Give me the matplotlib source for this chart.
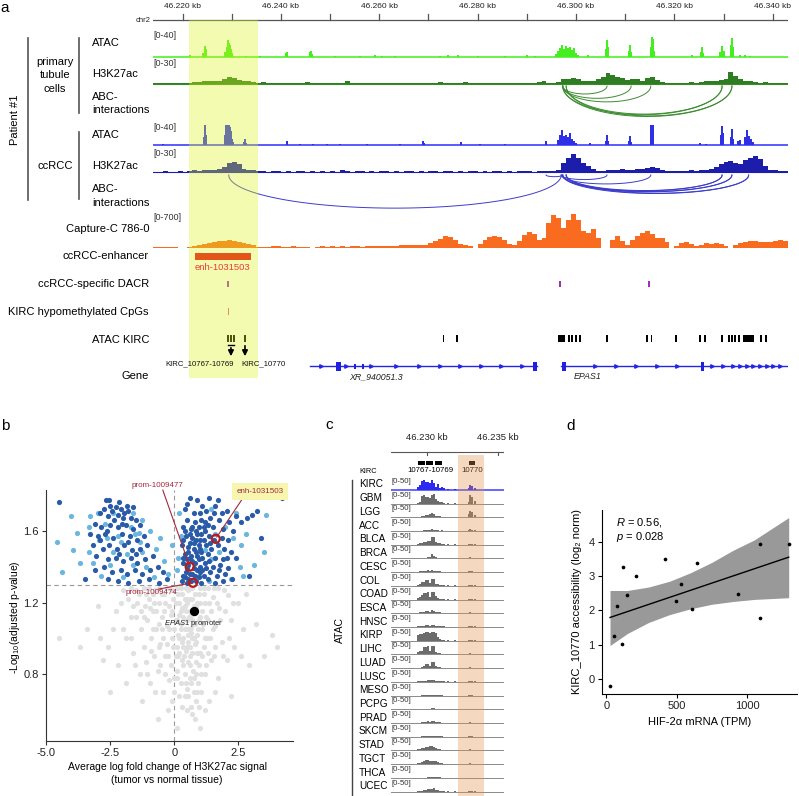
import numpy as np
import matplotlib
matplotlib.use("Agg")
import matplotlib.pyplot as plt
from matplotlib.patches import Rectangle

plt.rcParams['font.family'] = ['Liberation Sans', 'DejaVu Sans']
plt.rcParams['mathtext.fontset'] = 'custom'
plt.rcParams['mathtext.rm'] = 'Liberation Sans'
plt.rcParams['mathtext.it'] = 'Liberation Sans:italic'

W, H = 799, 796

# ---------------- panel a data (positions in kb on chr2) ----------------
REGION = (46214.0, 46343.1)
RULER_TICKS = [46220, 46230, 46240, 46250, 46260, 46270, 46280, 46290, 46300, 46310, 46320, 46330, 46340]
HIGHLIGHT = (46221.4, 46235.3)

# ATAC peaks (kb, signal 0-40)
PT_ATAC = [(46221.5, 4), (46224.16, 8), (46224.57, 22), (46224.77, 16), (46228.63, 10), (46229.04, 20),
           (46229.24, 34), (46229.45, 28), (46229.65, 24), (46229.85, 16), (46230.06, 8), (46232.9, 3),
           (46235.7, 3), (46241.03, 8), (46241.24, 10), (46245.9, 10), (46246.11, 12), (46246.3, 6),
           (46251.0, 3), (46256.1, 3), (46259.1, 4), (46260.5, 3), (46263.2, 3), (46272.3, 3), (46274.0, 4),
           (46276.0, 4), (46280.1, 3), (46285.5, 3), (46290.0, 4), (46291.6, 3),
           (46295.9, 6), (46296.3, 12), (46296.7, 18), (46297.1, 24), (46297.5, 16), (46297.9, 22),
           (46298.3, 18), (46298.7, 20), (46299.1, 14), (46299.6, 18), (46300.0, 8), (46300.4, 4),
           (46302.4, 4), (46306.1, 16), (46306.3, 34), (46306.5, 20), (46310.7, 12), (46310.9, 24),
           (46311.1, 10), (46315.2, 20), (46315.4, 40), (46315.6, 36), (46315.9, 12), (46323.6, 4),
           (46325.4, 10), (46325.6, 20), (46325.8, 8), (46329.2, 10), (46329.7, 22), (46330.1, 12),
           (46331.5, 24), (46331.7, 38), (46331.9, 20), (46333.3, 4), (46334.3, 4), (46335.3, 3)]

CC_ATAC = [(46216.0, 3), (46224.4, 16), (46224.6, 40), (46224.8, 20), (46228.6, 20), (46228.8, 40),
           (46229.0, 40), (46229.2, 40), (46229.45, 40), (46229.65, 36), (46229.85, 28), (46230.06, 12),
           (46230.26, 6), (46232.5, 6), (46232.7, 12), (46232.9, 4), (46241.24, 8), (46243.9, 2),
           (46246.5, 2), (46249.4, 2), (46252.0, 2), (46257.5, 2), (46264.2, 2), (46268.9, 8),
           (46269.1, 4), (46276.6, 6), (46280.5, 2), (46285.5, 2), (46293.9, 8),
           (46296.3, 10), (46296.7, 20), (46297.1, 30), (46297.5, 18), (46297.9, 20), (46298.3, 16),
           (46298.7, 24), (46299.1, 12), (46299.6, 8), (46300.0, 4), (46302.8, 4), (46306.1, 8),
           (46306.3, 20), (46306.5, 8), (46310.7, 8), (46310.9, 18), (46311.1, 6), (46315.2, 40),
           (46315.4, 40), (46315.6, 40), (46325.2, 4), (46326.4, 3), (46329.5, 20), (46329.7, 38),
           (46329.9, 24), (46331.5, 16), (46331.7, 32), (46331.9, 12), (46333.0, 8), (46333.3, 10),
           (46334.3, 16), (46334.7, 30), (46335.1, 18), (46335.5, 12), (46335.9, 6)]

# H3K27ac, 1 kb bins from 46214 (signal 0-30)
PT_H3K27AC = [1.5, 2.2, 1.5, 1.5, 2.2, 1.5, 1.5, 2.2, 3, 3,
              4.5, 4.5, 3.8, 5.2, 7.5, 10.5, 9, 6, 4.5, 5.2,
              3, 2.2, 3, 2.2, 1.5, 2.2, 1.5, 1.5, 2.2, 1.5,
              2.2, 3, 2.2, 1.5, 1.5, 2.2, 1.5, 1.5, 2.2, 3.8,
              2.2, 1.5, 1.5, 2.2, 1.5, 1.5, 2.2, 1.5, 1.5, 2.2,
              1.5, 2.2, 1.5, 2.2, 1.5, 2.2, 1.5, 2.2, 3, 1.5,
              2.2, 1.5, 2.2, 3, 1.5, 2.2, 1.5, 2.2, 1.5, 2.2,
              1.5, 2.2, 1.5, 2.2, 1.5, 2.2, 1.5, 2.2, 3, 3.8,
              1.5, 2.2, 3, 7.5, 7.5, 9, 7.5, 4.5, 3.8, 4.5,
              7.5, 10.5, 16.5, 13.5, 10.5, 9, 6, 7.5, 7.5, 4.5,
              9, 10.5, 6, 3, 2.2, 2.2, 1.5, 2.2, 1.5, 3,
              2.2, 3, 4.5, 4.5, 5.2, 6, 7.5, 18, 12, 7.5,
              4.5, 3.8, 3, 2.2, 3, 2.2, 2.2, 1.5, 1.5]

CC_H3K27AC = [1.5, 1.5, 2.2, 1.5, 1.5, 2.2, 1.5, 3, 3.8, 3,
              4.5, 4.5, 3.8, 6, 9, 15, 16.5, 13.5, 6, 4.5,
              4.5, 3, 2.2, 1.5, 2.2, 3, 1.5, 2.2, 1.5, 2.2,
              3, 1.5, 2.2, 1.5, 2.2, 1.5, 2.2, 1.5, 4.5, 2.2,
              1.5, 2.2, 3, 1.5, 2.2, 1.5, 2.2, 3, 1.5, 2.2,
              1.5, 2.2, 3, 1.5, 2.2, 1.5, 3, 2.2, 1.5, 2.2,
              3, 1.5, 2.2, 1.5, 2.2, 3, 1.5, 2.2, 1.5, 2.2,
              3, 1.5, 2.2, 1.5, 2.2, 3, 2.2, 1.5, 2.2, 3,
              2.2, 3, 4.5, 15, 22.5, 28.5, 22.5, 15, 10.5, 6,
              3, 3, 4.5, 4.5, 3.8, 5.2, 4.5, 4.5, 5.2, 6,
              7.5, 9, 7.5, 3.8, 3, 3, 2.2, 3, 3, 3.8,
              3, 3.8, 4.5, 6, 9, 13.5, 16.5, 18, 15, 13.5,
              19.5, 22.5, 25.5, 21, 10.5, 4.5, 3.8, 3, 3]

# Capture-C 786-0, 1 kb bins from 46214 (signal 0-700, 0 = no data)
CAPTURE_C = [30, 30, 30, 30, 30, 0, 0, 20, 40, 60,
             80, 100, 120, 140, 150, 160, 140, 120, 110, 90,
             60, 30, 20, 30, 50, 40, 30, 30, 40, 30,
             20, 20, 0, 30, 40, 30, 40, 30, 40, 30,
             40, 40, 30, 40, 40, 50, 40, 40, 50, 40,
             60, 60, 60, 70, 60, 60, 100, 140, 180, 240,
             220, 160, 80, 60, 50, 0, 80, 160, 220, 240,
             220, 160, 80, 60, 140, 260, 320, 280, 160, 200,
             500, 660, 600, 400, 560, 680, 560, 340, 300, 380,
             200, 0, 0, 160, 240, 140, 60, 160, 240, 300,
             340, 280, 200, 200, 120, 0, 40, 100, 120, 80,
             40, 60, 100, 80, 100, 80, 40, 0, 60, 100,
             120, 140, 140, 120, 120, 120, 140, 160, 140]

GREEN_ARCS = [(46297.3, 46306.3), (46297.3, 46311.2), (46297.3, 46315.2), (46297.3, 46329.7),
              (46297.3, 46331.7), (46298.0, 46329.7), (46298.0, 46331.7)]
BLUE_ARCS = [(46229.4, 46297.0), (46293.9, 46297.3), (46297.0, 46306.3), (46297.0, 46315.2),
             (46297.3, 46329.7), (46297.3, 46331.7), (46297.3, 46335.1), (46298.0, 46329.7),
             (46298.0, 46331.7), (46298.0, 46335.1)]

ENHANCER = (46222.5, 46233.9)
DACR = [46229.3, 46296.8, 46314.9]
HYPO_CPG = [46229.4]
ATAC_KIRC = [(46229.1, 46229.4), (46229.7, 46230.0), (46230.3, 46230.6), (46232.55, 46232.85),
             (46272.95, 46273.25), (46275.65, 46275.95), (46296.3, 46297.7), (46298.45, 46298.75),
             (46299.05, 46299.35), (46299.85, 46300.15), (46300.65, 46300.95), (46306.15, 46306.45),
             (46314.25, 46314.55), (46315.25, 46315.55), (46320.15, 46320.45), (46325.05, 46325.35),
             (46326.05, 46326.35), (46329.55, 46329.85), (46330.95, 46331.25), (46331.55, 46331.85),
             (46332.15, 46332.45), (46332.95, 46333.25), (46333.9, 46336.2), (46337.45, 46337.75),
             (46338.45, 46338.75)]

GENE_XR = (46245.9, 46292.0)
GENE_XR_EXONS = [(46251.2, 46252.2, 9), (46254.9, 46255.2, 5), (46256.5, 46256.8, 5), (46291.2, 46292.0, 9)]
GENE_XR_ARROWS = [46248.1, 46253.2, 46258.3, 46263.4, 46268.1, 46272.3, 46276.4, 46280.7, 46284.7, 46289.0]
GENE_EPAS1 = (46297.0, 46342.8)
GENE_EPAS1_EXONS = [(46297.1, 46297.9, 9), (46325.5, 46326.1, 9)]
GENE_EPAS1_ARROWS = [46303.8, 46308.1, 46312.2, 46316.4, 46320.5, 46327.6, 46329.9, 46331.9, 46333.3,
                     46334.7, 46336.0, 46337.4, 46338.8, 46340.0, 46341.4]

# ---------------- panel b data ----------------
VOLC_DARK = [(-4.51, 1.76), (-2.68, 1.77), (-2.55, 1.77), (-2.16, 1.76), (-2.9, 1.70), (-2.75, 1.72),
             (-2.45, 1.71), (-2.3, 1.73), (-2.1, 1.72), (-1.95, 1.70), (-1.8, 1.71), (-2.6, 1.68),
             (-2.35, 1.66), (-2.0, 1.67), (-1.7, 1.67), (-1.5, 1.66), (-3.1, 1.64), (-2.85, 1.62),
             (-2.5, 1.63), (-2.2, 1.62), (-1.9, 1.63), (-1.6, 1.61), (-1.35, 1.63), (-3.3, 1.58),
             (-3.0, 1.57), (-2.7, 1.58), (-2.4, 1.56), (-2.05, 1.58), (-1.75, 1.57), (-1.45, 1.55),
             (-1.2, 1.57), (-3.2, 1.52), (-2.8, 1.50), (-2.55, 1.52), (-2.25, 1.50), (-1.95, 1.52),
             (-1.65, 1.49), (-1.35, 1.50), (-1.05, 1.52), (-3.05, 1.46), (-2.6, 1.44), (-2.3, 1.45),
             (-2.0, 1.43), (-1.7, 1.45), (-1.45, 1.42), (-1.15, 1.44), (-0.85, 1.46), (-3.1, 1.38),
             (-2.75, 1.40), (-2.45, 1.37), (-2.1, 1.38), (-1.85, 1.36), (-1.55, 1.38), (-1.25, 1.36),
             (-0.95, 1.38), (-0.65, 1.40), (-2.6, 1.33), (-2.2, 1.32), (-1.4, 1.32), (-1.0, 1.33),
             (-0.6, 1.31), (-0.3, 1.33), (-1.8, 1.31), (-3.5, 1.33), (-0.45, 1.37), (-2.2, 1.69),
             (-1.85, 1.74), (-2.5, 1.74), (-1.6, 1.73), (-2.05, 1.64), (-2.65, 1.60), (-1.8, 1.54),
             (-2.9, 1.55), (-2.15, 1.47), (-1.5, 1.47),
             (0.6, 1.78), (0.9, 1.77), (1.35, 1.78), (1.7, 1.77), (1.1, 1.74), (0.4, 1.72), (0.75, 1.70),
             (1.0, 1.70), (1.25, 1.71), (1.55, 1.70), (1.85, 1.70), (2.05, 1.71), (0.5, 1.66),
             (0.8, 1.65), (1.05, 1.66), (1.4, 1.67), (1.75, 1.66), (2.15, 1.65), (2.6, 1.65),
             (2.85, 1.67), (3.05, 1.69), (3.25, 1.71), (0.35, 1.62), (0.65, 1.61), (0.95, 1.62),
             (1.2, 1.60), (1.5, 1.62), (1.9, 1.61), (2.3, 1.60), (0.45, 1.57), (0.7, 1.56), (0.9, 1.58),
             (1.15, 1.55), (1.35, 1.57), (1.85, 1.56), (2.1, 1.55), (3.4, 1.56), (0.3, 1.52),
             (0.55, 1.51), (0.75, 1.53), (1.0, 1.50), (1.25, 1.52), (1.45, 1.50), (1.7, 1.52),
             (1.95, 1.50), (2.2, 1.48), (0.4, 1.47), (0.65, 1.46), (0.85, 1.48), (1.1, 1.45),
             (1.3, 1.47), (1.6, 1.45), (1.9, 1.44), (2.4, 1.45), (0.35, 1.42), (0.55, 1.41), (0.8, 1.42),
             (1.0, 1.40), (1.2, 1.42), (1.5, 1.40), (1.8, 1.41), (2.1, 1.39), (0.45, 1.37), (0.7, 1.36),
             (0.9, 1.38), (1.15, 1.35), (1.4, 1.37), (1.65, 1.35), (2.0, 1.36), (2.9, 1.35), (0.3, 1.32),
             (0.55, 1.33), (0.85, 1.32), (1.05, 1.31), (1.3, 1.33), (1.6, 1.31), (1.9, 1.32),
             (2.25, 1.33), (4.2, 1.78), (0.6, 1.45), (0.5, 1.39), (0.95, 1.44), (1.05, 1.58), (0.7, 1.62),
             (0.4, 1.34), (0.65, 1.32), (0.95, 1.34), (0.5, 1.44), (0.75, 1.39), (1.1, 1.38), (0.35, 1.55),
             (0.6, 1.53), (0.85, 1.55), (1.2, 1.65), (1.6, 1.74), (2.4, 1.68), (0.5, 1.75), (1.3, 1.63),
             (0.35, 1.35), (0.5, 1.31), (0.62, 1.36), (0.8, 1.35), (1.0, 1.37), (1.25, 1.39), (0.42, 1.45),
             (0.7, 1.43), (0.9, 1.46), (1.35, 1.43), (0.55, 1.48), (0.78, 1.5), (1.05, 1.48), (1.4, 1.53),
             (0.62, 1.58), (0.95, 1.52), (1.15, 1.62), (1.55, 1.55), (1.75, 1.38), (2.05, 1.45), (1.0, 1.55),
             (0.32, 1.45), (0.4, 1.6), (0.85, 1.6)]

VOLC_LIGHT = [(-4.04, 1.68), (-3.79, 1.59), (-4.58, 1.54), (-3.96, 1.49), (-4.38, 1.37), (-3.7, 1.42),
              (-3.3, 1.68), (-3.0, 1.70), (-2.4, 1.70), (-1.6, 1.70), (-2.7, 1.64), (-1.25, 1.66),
              (-3.35, 1.62), (-2.95, 1.55), (-2.2, 1.57), (-1.55, 1.58), (-0.95, 1.60), (-3.35, 1.48),
              (-2.4, 1.48), (-1.85, 1.47), (-1.25, 1.48), (-0.7, 1.50), (-3.2, 1.42), (-2.85, 1.35),
              (-2.0, 1.34), (-1.6, 1.41), (-1.1, 1.40), (-0.8, 1.34), (-0.4, 1.43), (-0.1, 1.52),
              (0.15, 1.45), (-0.25, 1.36), (0.1, 1.38), (-1.35, 1.54), (-2.65, 1.56), (-0.55, 1.56),
              (-1.7, 1.62), (-2.1, 1.54), (-1.4, 1.59), (-2.5, 1.41),
              (0.2, 1.70), (1.45, 1.72), (2.4, 1.70), (3.6, 1.69), (3.5, 1.48), (2.6, 1.52), (2.3, 1.56),
              (2.55, 1.40), (1.75, 1.48), (2.7, 1.35), (2.2, 1.33), (0.25, 1.57), (1.2, 1.49), (2.0, 1.62),
              (1.6, 1.58), (0.95, 1.35), (1.45, 1.44), (2.8, 1.58), (3.1, 1.41), (1.35, 1.32)]

VOLC_GRAY = [(-4.5, 1.0), (-3.4, 1.05), (-3.0, 1.18), (-2.6, 0.95), (-2.3, 1.15), (-2.0, 1.05), (-2.2, 0.85),
             (-1.8, 1.22), (-1.7, 1.0), (-1.6, 0.92), (-1.5, 1.12), (-1.4, 1.25), (-1.35, 0.8), (-1.3, 1.05),
             (-1.2, 0.95), (-1.15, 1.18), (-1.1, 0.87), (-1.05, 1.1), (-1.0, 1.22), (-0.95, 0.75), (-0.9, 1.0),
             (-0.85, 1.15), (-0.8, 0.9), (-0.75, 1.27), (-0.7, 1.05), (-0.65, 0.82), (-0.6, 1.2), (-0.55, 0.97),
             (-0.5, 1.12), (-0.45, 0.7), (-0.4, 1.25), (-0.35, 0.9), (-0.3, 1.07), (-0.25, 0.6), (-0.2, 1.18),
             (-0.15, 0.85), (-0.1, 1.0), (-0.05, 1.22), (0.0, 0.78), (0.05, 1.1), (0.1, 0.95), (0.15, 1.25),
             (0.2, 0.68), (0.25, 1.05), (0.3, 0.88), (0.3, 1.17), (0.35, 1.0), (0.4, 0.8), (0.4, 1.22),
             (0.45, 0.93), (0.5, 1.1), (0.5, 0.72), (0.55, 1.27), (0.55, 0.98), (0.6, 0.85), (0.6, 1.15),
             (0.65, 1.03), (0.65, 0.62), (0.7, 0.92), (0.7, 1.22), (0.75, 0.78), (0.75, 1.08), (0.8, 0.97),
             (0.8, 0.55), (0.85, 1.18), (0.85, 0.87), (0.9, 1.02), (0.9, 0.7), (0.95, 1.25), (1.0, 0.92),
             (1.0, 1.12), (1.05, 0.8), (1.1, 1.05), (1.15, 0.95), (1.2, 1.2), (1.25, 0.85), (1.3, 1.1),
             (1.35, 0.65), (1.4, 1.0), (1.5, 1.23), (1.55, 0.9), (1.6, 1.07), (1.7, 0.78), (1.75, 1.17),
             (1.85, 0.98), (1.95, 1.27), (2.05, 0.88), (2.2, 1.1), (2.35, 0.95), (2.5, 1.2), (2.7, 1.05),
             (2.9, 0.85), (3.2, 1.08), (3.5, 0.9), (3.8, 1.02), (-1.9, 0.75), (-1.25, 0.65), (-0.65, 0.55),
             (0.1, 0.5), (1.0, 0.5), (0.5, 0.6), (-2.5, 0.7), (2.2, 0.68), (-0.2, 0.77), (0.45, 1.28),
             (0.25, 1.28), (-0.3, 1.28), (1.15, 1.28), (-1.0, 1.28), (0.6, 1.28), (0.8, 1.25), (0.35, 1.12),
             (0.65, 1.13), (0.15, 1.02), (0.55, 0.87), (0.95, 1.1), (0.2, 0.92), (-0.15, 1.13), (0.05, 0.9),
             (0.7, 1.0), (0.45, 1.05), (0.85, 0.98), (0.3, 0.98), (1.1, 1.15), (-0.5, 1.25), (-0.1, 1.27),
             (0.4, 0.68), (0.75, 0.7), (-0.35, 0.8), (1.3, 0.92), (-0.8, 1.2), (-1.2, 1.12), (-0.6, 1.08),
             (-0.9, 0.93), (0.2, 1.2), (0.5, 1.2), (0.9, 1.2), (0.35, 0.85), (0.6, 0.95), (0.85, 0.8),
             (0.1, 0.82), (-0.45, 1.0), (1.2, 1.0), (1.45, 1.15), (-1.5, 1.27), (-2.0, 1.27), (1.7, 1.28),
             (2.1, 1.24), (0.65, 0.75), (0.25, 0.75), (0.95, 0.62), (-0.1, 0.65), (1.6, 0.7), (-1.6, 1.18),
             (-1.45, 1.2), (-1.3, 1.15), (-1.1, 1.25), (-0.95, 1.17), (-0.85, 1.05), (-0.7, 1.15), (-0.6, 0.95),
             (-0.5, 1.05), (-0.4, 1.15), (-0.3, 0.97), (-0.2, 1.05), (-0.1, 1.15), (0.0, 1.05), (0.05, 1.2),
             (0.1, 1.1), (0.15, 0.9), (0.2, 1.0), (0.25, 1.15), (0.3, 1.25), (0.35, 0.95), (0.4, 1.05),
             (0.45, 1.15), (0.5, 0.95), (0.55, 1.05), (0.6, 1.22), (0.62, 0.9), (0.68, 1.1), (0.72, 0.82),
             (0.78, 1.0), (0.82, 1.15), (0.88, 0.92), (0.92, 1.05), (0.98, 0.85), (1.02, 1.2), (1.08, 0.9),
             (1.12, 1.08), (1.18, 0.8), (1.22, 1.12), (1.28, 1.0), (1.35, 1.2), (1.42, 0.88), (1.5, 1.05),
             (1.6, 0.95), (1.65, 1.2), (1.8, 1.1), (1.9, 0.9), (2.0, 1.15), (2.15, 1.0), (2.3, 1.2), (2.6, 0.9),
             (-1.7, 1.12), (-1.9, 1.0), (-2.1, 1.2), (-2.4, 1.05), (-2.8, 0.88), (-1.55, 0.85), (-1.05, 0.8),
             (-0.75, 0.7), (-0.55, 0.85), (-0.25, 0.9), (0.0, 0.7), (0.3, 0.62), (0.45, 0.75), (0.55, 0.68),
             (0.7, 0.58), (0.85, 0.65), (1.05, 0.7), (1.2, 0.6), (0.6, 0.78), (0.38, 0.9), (0.12, 0.78),
             (-0.05, 0.95), (0.92, 0.75), (1.15, 1.25), (1.3, 1.28), (1.0, 1.28), (-0.2, 1.28), (-0.6, 1.28),
             (0.7, 1.28), (0.1, 1.28), (-1.2, 1.28), (1.55, 1.28), (-1.7, 1.28), (0.4, 1.18), (0.58, 1.12),
             (0.75, 1.18), (0.48, 1.22), (0.52, 1.02), (0.66, 1.06), (0.8, 1.08), (0.28, 1.08), (0.18, 1.13),
             (-0.35, 1.2), (-0.85, 1.25), (2.8, 1.25), (-3.7, 0.95), (4.0, 0.95), (-2.9, 1.0)]

VOLC_HIGHLIGHT = [(0.6, 1.40), (0.73, 1.31), (1.62, 1.555)]
EPAS1_PROMOTER = (0.75, 1.153)

# ---------------- panel c data ----------------
C_REGION = (46227.43, 46235.45)
C_BINS = [46229.36, 46229.5, 46229.64, 46229.79, 46229.93, 46230.07, 46230.21, 46230.36, 46230.5, 46230.64,
          46230.79, 46230.93, 46231.07, 46231.21, 46231.5, 46232.0, 46232.93, 46233.07, 46233.21, 46233.36]
C_BAND = (46232.2, 46234.0)
C_PEAKS = [(46229.36, 46229.86), (46229.93, 46230.43), (46230.57, 46231.07), (46233.0, 46233.4)]
C_TRACKS = {
    'KIRC': [15, 25, 45, 50, 40, 40, 35, 50, 35, 15, 30, 10, 15, 10, 5, 5, 10, 25, 20, 8],
    'GBM': [5, 10, 40, 45, 35, 35, 30, 45, 50, 25, 15, 10, 10, 5, 3, 3, 10, 45, 35, 15],
    'LGG': [0, 3, 5, 8, 10, 10, 15, 20, 15, 8, 5, 5, 3, 3, 2, 2, 15, 30, 25, 10],
    'ACC': [0, 0, 0, 3, 3, 3, 5, 8, 5, 3, 3, 0, 3, 0, 0, 0, 3, 8, 5, 3],
    'BLCA': [5, 8, 10, 15, 15, 20, 20, 40, 40, 15, 10, 8, 5, 3, 2, 2, 3, 5, 3, 2],
    'BRCA': [0, 0, 3, 3, 3, 5, 8, 20, 10, 5, 3, 3, 3, 0, 0, 0, 3, 5, 3, 2],
    'CESC': [3, 5, 5, 8, 8, 10, 8, 10, 8, 5, 5, 5, 3, 3, 3, 3, 5, 8, 5, 3],
    'COL': [5, 10, 20, 20, 30, 30, 15, 35, 35, 10, 8, 5, 3, 3, 2, 2, 3, 5, 3, 2],
    'COAD': [8, 15, 25, 35, 35, 40, 15, 40, 40, 20, 10, 5, 3, 3, 2, 2, 3, 5, 5, 3],
    'ESCA': [3, 5, 5, 8, 10, 10, 8, 15, 12, 8, 5, 5, 3, 3, 2, 2, 3, 5, 3, 2],
    'HNSC': [3, 3, 5, 5, 8, 8, 5, 12, 10, 5, 5, 3, 3, 3, 2, 2, 3, 5, 5, 3],
    'KIRP': [30, 35, 35, 40, 45, 45, 40, 45, 45, 40, 20, 10, 5, 3, 3, 2, 3, 5, 3, 2],
    'LIHC': [10, 15, 15, 35, 35, 40, 15, 40, 40, 10, 8, 5, 3, 3, 2, 2, 3, 5, 3, 2],
    'LUAD': [3, 3, 8, 10, 20, 20, 10, 30, 30, 10, 5, 5, 3, 3, 2, 2, 3, 5, 3, 2],
    'LUSC': [2, 3, 3, 5, 5, 8, 8, 10, 8, 5, 5, 3, 3, 2, 2, 2, 3, 3, 3, 2],
    'MESO': [0, 0, 2, 3, 3, 3, 3, 5, 5, 3, 3, 2, 2, 0, 0, 0, 2, 3, 2, 0],
    'PCPG': [0, 0, 2, 3, 3, 3, 3, 5, 5, 3, 2, 2, 2, 0, 0, 0, 2, 3, 2, 0],
    'PRAD': [0, 2, 3, 3, 5, 8, 5, 8, 10, 5, 3, 3, 2, 2, 0, 0, 2, 3, 2, 0],
    'SKCM': [0, 0, 2, 2, 3, 5, 5, 5, 3, 3, 2, 2, 2, 0, 0, 0, 2, 3, 2, 0],
    'STAD': [5, 8, 10, 10, 15, 15, 20, 20, 15, 10, 8, 5, 3, 3, 2, 2, 3, 5, 3, 2],
    'TGCT': [5, 8, 10, 15, 20, 20, 15, 15, 15, 15, 10, 8, 5, 3, 2, 2, 3, 5, 3, 2],
    'THCA': [0, 0, 0, 2, 2, 3, 3, 3, 3, 3, 5, 3, 2, 0, 0, 0, 2, 2, 2, 0],
    'UCEC': [3, 5, 5, 8, 10, 15, 12, 15, 20, 10, 8, 5, 3, 3, 2, 2, 3, 5, 3, 2],
}

# ---------------- panel d data ----------------
HIF2A_TPM = [26, 54, 78, 114, 121, 145, 208, 417, 495, 528, 607, 640, 931, 1088, 1090, 1294]
KIRC_10770 = [-0.19, 1.25, 2.13, 1.02, 3.27, 2.45, 2.99, 3.49, 2.26, 2.78, 2.05, 3.37, 2.48, 3.92, 1.79, 3.92]
# confidence band edges
BAND_TPM = [26, 150, 300, 450, 600, 750, 900, 1050, 1294]
BAND_LOW = [0.98, 1.33, 1.65, 1.88, 2.05, 2.18, 2.26, 2.32, 2.37]
BAND_HIGH = [2.58, 2.58, 2.68, 2.85, 3.10, 3.40, 3.75, 4.05, 4.70]


def add_ax(left, top, right, bottom):
    return fig.add_axes([left / W, 1 - bottom / H, (right - left) / W, (bottom - top) / H])


def ftext(x, y, s, **kw):
    kw.setdefault('va', 'center')
    fig.text(x / W, 1 - y / H, s, **kw)


def fline(xs, ys, **kw):
    fig.add_artist(plt.Line2D([x / W for x in xs], [1 - y / H for y in ys], **kw))


fig = plt.figure(figsize=(W / 100, H / 100), dpi=100)

# =============== panel a ===============
axA = add_ax(153, 0, 788, 380)
axA.set_xlim(*REGION)
axA.set_ylim(380, 0)
axA.axis('off')

axA.plot([REGION[0], 46342.9], [20, 20], color='#555555', lw=0.9)
for t in RULER_TICKS:
    axA.plot([t, t], [20, 14], color='#555555', lw=0.9)
    if (t - 46220) % 20 == 0:
        axA.text(t, 7, f"46.{t - 46000} kb", ha='center', va='center', fontsize=6, color='#222222')
ftext(150, 21, 'chr2', ha='right', fontsize=5.5, color='#222222')


def peak_track(peaks, base, scale, color, width=0.4):
    xs = [p[0] for p in peaks]
    hs = [-p[1] * scale for p in peaks]
    axA.bar(xs, hs, bottom=base, width=width, color=color, linewidth=0, zorder=2)


def bin_track(values, base, scale, color):
    xs = REGION[0] + np.arange(len(values)) + 0.5
    axA.bar(xs, -np.array(values) * scale, bottom=base, width=1.0, color=color, linewidth=0, zorder=2)


def arcs(pairs, y0, depth_per_kb, color):
    t = np.linspace(0, np.pi, 80)
    for a, b in pairs:
        c, r = (a + b) / 2, (b - a) / 2
        axA.plot(c + r * np.cos(t), y0 + (b - a) * depth_per_kb * np.sin(t), color=color, lw=0.7, zorder=2)


axA.plot(REGION, [57, 57], color='#52f02e', lw=1.2, zorder=2)
peak_track(PT_ATAC, 57, 20 / 40, '#45ee1f')
axA.plot(REGION, [84, 84], color='#3b8a2a', lw=0.8, zorder=2)
bin_track(PT_H3K27AC, 84, 20 / 30, '#2f7d22')
arcs(GREEN_ARCS, 86, 0.886, '#3c8c30')

axA.plot(REGION, [145, 145], color='#5a5aff', lw=1.4, zorder=2)
peak_track(CC_ATAC, 145, 20 / 40, '#2f2fe6')
axA.plot(REGION, [172.5, 172.5], color='#2424b0', lw=0.8, zorder=2)
bin_track(CC_H3K27AC, 172.5, 20 / 30, '#1d1dab')
arcs(BLUE_ARCS, 175, 0.49, '#3c3ccc')

bin_track(CAPTURE_C, 248, 35 / 700, '#f96b1f')

for kb in DACR:
    axA.add_patch(Rectangle((kb - 0.2, 281), 0.4, 6, color='#a030b8', lw=0, zorder=2))
for kb in HYPO_CPG:
    axA.add_patch(Rectangle((kb - 0.1, 308), 0.2, 7, color='#d06a6a', lw=0, zorder=2))
for a, b in ATAC_KIRC:
    axA.add_patch(Rectangle((a, 335), b - a, 7, color='black', lw=0, zorder=2))

for (a, b), arrows, exons in [(GENE_XR, GENE_XR_ARROWS, GENE_XR_EXONS),
                              (GENE_EPAS1, GENE_EPAS1_ARROWS, GENE_EPAS1_EXONS)]:
    axA.plot([a, b], [366.5, 366.5], color='#2525e8', lw=1.0, zorder=2)
    axA.plot(arrows, [366.5] * len(arrows), ls='none', marker='>', ms=2.5, color='#2525e8', zorder=2)
    for e0, e1, h in exons:
        axA.add_patch(Rectangle((e0, 366.5 - h / 2), e1 - e0, h, color='#2020e0', lw=0, zorder=2))
axA.text(46259.3, 377, 'XR_940051.3', ha='center', va='center', fontsize=6.3, style='italic', color='#222222')
axA.text(46302.4, 377, 'EPAS1', ha='center', va='center', fontsize=6.3, style='italic', color='#222222')

# highlight
axA.add_patch(Rectangle((HIGHLIGHT[0], 20), HIGHLIGHT[1] - HIGHLIGHT[0], 358, color='#ddf41d',
                        alpha=0.35, lw=0, zorder=5))
axA.add_patch(Rectangle((ENHANCER[0], 253), ENHANCER[1] - ENHANCER[0], 7, color='#e2561a', lw=0, zorder=6))
axA.text(sum(ENHANCER) / 2, 268, 'enh-1031503', ha='center', va='center', fontsize=6.8, color='#f03a3a', zorder=6)

axA.annotate('', xy=(46229.85, 359), xytext=(46229.85, 345),
             arrowprops=dict(arrowstyle='-|>', color='black', lw=1.2, mutation_scale=8), zorder=7)
axA.plot([46229.24, 46230.46], [345, 345], color='black', lw=1.0, zorder=7)
axA.annotate('', xy=(46232.7, 359), xytext=(46232.7, 343),
             arrowprops=dict(arrowstyle='-|>', color='black', lw=1.2, mutation_scale=8), zorder=7)
ftext(200, 364, 'KIRC_10767-10769', ha='center', fontsize=5.6, color='#111111')
ftext(264, 364, 'KIRC_10770', ha='center', fontsize=5.6, color='#111111')

for y, s in [(35, '[0-40]'), (63, '[0-30]'), (127, '[0-40]'), (153, '[0-30]'), (217, '[0-700]')]:
    ftext(153, y, s, ha='left', fontsize=6.5, color='#333333')

for y, s in [(43, 'ATAC'), (74, 'H3K27ac'), (97, 'ABC-'), (110, 'interactions'),
             (135, 'ATAC'), (166, 'H3K27ac'), (189, 'ABC-'), (203, 'interactions')]:
    ftext(92, y, s, ha='left', fontsize=8)
for y, s in [(62, 'primary'), (75, 'tubule'), (89, 'cells'), (166, 'ccRCC')]:
    ftext(55, y, s, ha='center', fontsize=8)
ftext(15, 120, 'Patient #1', ha='center', rotation=90, fontsize=8)
fline([28, 28], [38, 200], color='#555555', lw=1.2)
fline([79, 79], [38, 113], color='#555555', lw=1.2)
fline([79, 79], [132, 199], color='#555555', lw=1.2)
for y, s in [(229, 'Capture-C 786-0'), (256, 'ccRCC-enhancer'), (284, 'ccRCC-specific DACR'),
             (312, 'KIRC hypomethylated CpGs'), (340, 'ATAC KIRC'), (376, 'Gene')]:
    ftext(149, y, s, ha='right', fontsize=8)

# =============== panel b ===============
axB = add_ax(45.7, 490, 293, 740.7)
axB.set_xlim(-5.03, 4.64)
axB.set_ylim(0.43, 1.827)
for sp in ['top', 'right']:
    axB.spines[sp].set_visible(False)
for sp in ['left', 'bottom']:
    axB.spines[sp].set_color('#333333')
    axB.spines[sp].set_linewidth(0.8)
g = np.array(VOLC_GRAY)
lb = np.array(VOLC_LIGHT)
db = np.array(VOLC_DARK)
axB.scatter(g[:, 0], g[:, 1], s=14, color='#e0e0e0', lw=0, zorder=1)
axB.scatter(lb[:, 0], lb[:, 1], s=14, color='#6ab6de', lw=0, zorder=2)
axB.scatter(db[:, 0], db[:, 1], s=14, color='#2a5ba8', lw=0, zorder=3)
axB.axhline(1.3, color='#999999', lw=0.8, ls=(0, (4, 3)), zorder=0)
axB.axvline(0, color='#999999', lw=0.8, ls=(0, (4, 3)), zorder=0)
hx = [p[0] for p in VOLC_HIGHLIGHT]
hy = [p[1] for p in VOLC_HIGHLIGHT]
axB.scatter(hx, hy, s=34, facecolor='none', edgecolor='#b51d1d', lw=1.6, zorder=5)
axB.scatter([EPAS1_PROMOTER[0]], [EPAS1_PROMOTER[1]], s=45, color='black', lw=0, zorder=5)
lab_col = '#a3283c'
axB.plot([-0.45, 0.58], [1.826, 1.41], color=lab_col, lw=0.8, zorder=4, clip_on=False)
axB.text(-0.68, 1.854, 'prom-1009477', ha='center', va='center', fontsize=5.8, color=lab_col)
axB.plot([-0.61, 0.7], [1.275, 1.31], color=lab_col, lw=0.8, zorder=4)
axB.text(-0.91, 1.257, 'prom-1009474', ha='center', va='center', fontsize=5.8, color=lab_col)
axB.plot([2.86, 1.66], [1.82, 1.565], color=lab_col, lw=0.8, zorder=4, clip_on=False)
axB.text(3.35, 1.82, 'enh-1031503', ha='center', va='center', fontsize=5.8, color=lab_col, zorder=6,
         bbox=dict(boxstyle='square,pad=0.6', facecolor='#f6f6ae', edgecolor='none'))
axB.text(EPAS1_PROMOTER[0], 1.084, r'$\mathit{EPAS1}$ promoter', ha='center', va='center', fontsize=5.5,
         color='#222222')
axB.set_xticks([-5, -2.5, 0, 2.5])
axB.set_xticklabels(['-5.0', '-2.5', '0', '2.5'])
axB.set_yticks([0.8, 1.2, 1.6])
axB.set_yticklabels(['0.8', '1.2', '1.6'])
axB.tick_params(labelsize=8, length=3, width=0.8, color='#333333', labelcolor='#222222', pad=2)
ftext(167, 767, 'Average log fold change of H3K27ac signal', ha='center', fontsize=7.5)
ftext(167, 780, '(tumor vs normal tissue)', ha='center', fontsize=7.5)
ftext(15, 617, '-Log$_{10}$(adjusted p-value)', ha='center', rotation=90, fontsize=7.5)

# =============== panel c ===============
axC = add_ax(391, 430, 504, 796)
axC.set_xlim(*C_REGION)
axC.set_ylim(796, 430)
axC.axis('off')
axC.plot([C_REGION[0], 46235.43], [452, 452], color='#555555', lw=0.8)
for t in [46230, 46235]:
    axC.plot([t, t], [452, 455], color='#555555', lw=0.8)
    axC.text(t, 438, f"46.{t - 46000} kb", ha='center', va='center', fontsize=6.8, color='#222222',
             clip_on=False)
for a, b in C_PEAKS:
    axC.add_patch(Rectangle((a, 461), b - a, 4, color='black', lw=0, zorder=2))
axC.text(46230.2, 471, '10767-10769', ha='center', va='center', fontsize=5.7)
axC.text(46233.2, 471, '10770', ha='center', va='center', fontsize=5.7)
ftext(359, 471, 'KIRC', ha='left', fontsize=5.3)

for i, (name, vals) in enumerate(C_TRACKS.items()):
    base = 489.8 + i * 13.72
    col = '#2a2af0' if name == 'KIRC' else '#6c6c6c'
    axC.plot(C_REGION, [base, base], color='#5a5aff' if name == 'KIRC' else '#8a8a8a',
             lw=1.3 if name == 'KIRC' else 0.7, zorder=2)
    axC.bar(C_BINS, -np.array(vals) * (10 / 50), bottom=base, width=0.14, color=col, linewidth=0, zorder=2)
    ftext(391, base - 8.5, '[0-50]', ha='left', fontsize=5.6, color='#333333')
    ftext(359, base - 5.3, name, ha='left', fontsize=7.2)
axC.add_patch(Rectangle((C_BAND[0], 455), C_BAND[1] - C_BAND[0], 341, color='#e2904b', alpha=0.35,
                        lw=0, zorder=5))
fline([352, 352], [480, 796], color='#444444', lw=1.0)
ftext(340, 630, 'ATAC', ha='center', rotation=90, fontsize=7.5)

# =============== panel d ===============
axD = add_ax(601.7, 510, 797, 694)
x = np.array(HIF2A_TPM, dtype=float)
y = np.array(KIRC_10770)
slope, icpt = np.polyfit(x, y, 1)
xs = np.array([x.min(), x.max()])
axD.fill_between(BAND_TPM, BAND_LOW, BAND_HIGH, color='#999999', lw=0, zorder=1)
axD.plot(xs, icpt + slope * xs, color='black', lw=1.0, zorder=2)
axD.scatter(x, y, s=7, color='black', lw=0, zorder=3)
axD.set_xlim(-33, 1353)
axD.set_ylim(-0.43, 4.92)
for sp in ['top', 'right']:
    axD.spines[sp].set_visible(False)
for sp in ['left', 'bottom']:
    axD.spines[sp].set_linewidth(0.8)
axD.set_xticks([0, 500, 1000])
axD.set_yticks([0, 1, 2, 3, 4])
axD.tick_params(labelsize=8, length=3, width=0.8, pad=2, labelcolor='#222222')
axD.text(0.075, 0.97, '$R$ = 0.56,\n$p$ = 0.028', transform=axD.transAxes, ha='left', va='top',
         fontsize=8, linespacing=1.1)
ftext(700, 722, 'HIF-2α mRNA (TPM)', ha='center', fontsize=8)
ftext(577, 602, 'KIRC_10770 accessibility (log₂ norm)', ha='center', rotation=90, fontsize=8)

# panel letters
for px, py, s in [(5, 8, 'a'), (5, 426, 'b'), (329, 425, 'c'), (571, 426, 'd')]:
    ftext(px, py, s, ha='center', fontsize=11)

fig.savefig('out.png', dpi=100)
